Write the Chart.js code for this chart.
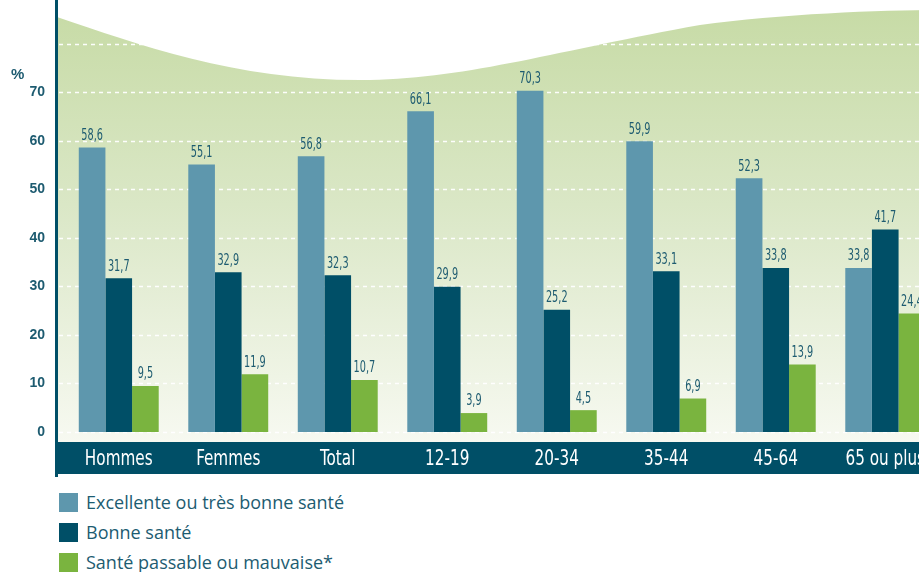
<!DOCTYPE html>
<html lang="fr">
<head>
<meta charset="utf-8">
<title>Santé perçue</title>
<script src="https://cdn.jsdelivr.net/npm/chart.js@4/dist/chart.umd.min.js"></script>
<style>
  html, body { margin: 0; padding: 0; background: #fff; }
  body { width: 919px; height: 572px; overflow: hidden; position: relative; }
  #wrap { position: absolute; left: 0; top: 0; width: 940px; height: 480px; }
  #legend { position: absolute; left: 59px; top: 487px; margin: 0; padding: 0; list-style: none;
            font-family: 'Open Sans', 'Noto Sans', sans-serif; font-size: 18px; color: #1d5c71; }
  #legend li { height: 30px; display: flex; align-items: center; }
  #legend .box { width: 19px; height: 19px; margin-right: 8px; flex: none; }
</style>
</head>
<body>
<div id="wrap"><canvas id="chart" width="940" height="480"></canvas></div>
<ul id="legend"></ul>
<script>
(function () {
    'use strict';

    // data
    var categories = ['Hommes', 'Femmes', 'Total', '12-19', '20-34', '35-44', '45-64', '65 ou plus'];
    var excellente = [58.6, 55.1, 56.8, 66.1, 70.3, 59.9, 52.3, 33.8];
    var bonne = [31.7, 32.9, 32.3, 29.9, 25.2, 33.1, 33.8, 41.7];
    var passable = [9.5, 11.9, 10.7, 3.9, 4.5, 6.9, 13.9, 24.4];
    var seriesNames = ['Excellente ou très bonne santé', 'Bonne santé', 'Santé passable ou mauvaise*'];
    var yTicks = [0, 10, 20, 30, 40, 50, 60, 70, 80];

    var LIGHT = '#5e97ad';
    var DARK = '#004f67';
    var GREEN = '#7ab43f';
    var TEXT = '#1d5b70';
    var CONDENSED = "'DejaVu Sans Condensed', 'DejaVu Sans', sans-serif";

    function fmt(v) {
        return v.toFixed(1).replace('.', ',');
    }

    // draw text squeezed horizontally, the source uses a condensed face
    function squeezedText(ctx, text, x, y, sx) {
        ctx.save();
        ctx.translate(x, y);
        ctx.scale(sx, 1);
        ctx.fillText(text, 0, 0);
        ctx.restore();
    }

    // wavy green background, dashed grid, axis line and the dark category band
    var backdrop = {
        id: 'backdrop',
        beforeDraw: function (chart) {
            var ctx = chart.ctx;
            var w = chart.width;
            var g = ctx.createLinearGradient(0, 10, 0, 442);
            g.addColorStop(0, '#c7dba6');
            g.addColorStop(0.45, '#dae7c6');
            g.addColorStop(1, '#f7f9f1');
            ctx.save();
            ctx.fillStyle = g;
            ctx.beginPath();
            ctx.moveTo(57, 17);
            ctx.bezierCurveTo(140, 45, 240, 82, 370, 80);
            ctx.bezierCurveTo(470, 78, 560, 50, 700, 25);
            ctx.bezierCurveTo(780, 14, 880, 10, w, 10);
            ctx.lineTo(w, 442);
            ctx.lineTo(57, 442);
            ctx.closePath();
            ctx.fill();

            ctx.fillStyle = DARK;
            ctx.fillRect(55, 442, w - 55, 32);
            ctx.fillRect(55, 0, 3, 477);

            ctx.fillStyle = TEXT;
            ctx.font = 'bold 15px "Liberation Sans", sans-serif';
            ctx.textAlign = 'left';
            ctx.textBaseline = 'middle';
            ctx.fillText('%', 11, 75);
            ctx.restore();
        },
        beforeDatasetsDraw: function (chart) {
            var ctx = chart.ctx;
            var y = chart.scales.y;
            ctx.save();
            ctx.strokeStyle = 'rgba(255,255,255,0.95)';
            ctx.lineWidth = 1.5;
            ctx.setLineDash([4, 4]);
            yTicks.forEach(function (t) {
                var py = Math.round(y.getPixelForValue(t)) + 0.5;
                ctx.beginPath();
                ctx.moveTo(59, py);
                ctx.lineTo(chart.width, py);
                ctx.stroke();
            });
            ctx.restore();
        },
        afterDatasetsDraw: function (chart) {
            var ctx = chart.ctx;
            ctx.save();
            ctx.fillStyle = TEXT;
            ctx.font = '15px ' + CONDENSED;
            ctx.textAlign = 'center';
            ctx.textBaseline = 'bottom';
            chart.data.datasets.forEach(function (ds, i) {
                chart.getDatasetMeta(i).data.forEach(function (bar, j) {
                    squeezedText(ctx, fmt(ds.data[j]), bar.x, bar.y - 4, 0.72);
                });
            });

            // category names inside the band
            var x = chart.scales.x;
            ctx.fillStyle = '#ffffff';
            ctx.font = '22px ' + CONDENSED;
            ctx.textBaseline = 'middle';
            x.ticks.forEach(function (t, i) {
                squeezedText(ctx, chart.data.labels[t.value], x.getPixelForTick(i), 459, 0.77);
            });
            ctx.restore();
        }
    };

    function buildLegend(chart) {
        var ul = document.getElementById('legend');
        chart.data.datasets.forEach(function (ds) {
            var li = document.createElement('li');
            var box = document.createElement('span');
            box.className = 'box';
            box.style.background = ds.backgroundColor;
            li.appendChild(box);
            li.appendChild(document.createTextNode(ds.label));
            ul.appendChild(li);
        });
    }

    function init() {
        var canvas = document.getElementById('chart');
        var chart = new Chart(canvas, {
            type: 'bar',
            data: {
                labels: categories,
                datasets: [
                    { label: seriesNames[0], data: excellente, backgroundColor: LIGHT },
                    { label: seriesNames[1], data: bonne, backgroundColor: DARK },
                    { label: seriesNames[2], data: passable, backgroundColor: GREEN }
                ]
            },
            options: {
                responsive: false,
                animation: false,
                layout: { padding: 0 },
                datasets: {
                    bar: { categoryPercentage: 0.73, barPercentage: 1.0 }
                },
                plugins: {
                    legend: { display: false },
                    tooltip: { enabled: false }
                },
                scales: {
                    x: {
                        offset: true,
                        grid: { display: false, drawTicks: false },
                        border: { display: false },
                        ticks: { display: false, autoSkip: false, maxRotation: 0 },
                        afterFit: function (s) {
                            s.height = 48;
                            s.paddingLeft = 0;
                            s.paddingRight = 0;
                        }
                    },
                    y: {
                        min: 0,
                        max: 89,
                        grid: { display: false, drawTicks: false },
                        border: { display: false },
                        afterBuildTicks: function (s) {
                            s.ticks = yTicks.map(function (v) { return { value: v }; });
                        },
                        ticks: {
                            color: TEXT,
                            padding: 19,
                            font: { family: "'Liberation Sans', sans-serif", size: 14, weight: 'bold' },
                            callback: function (v) { return v <= 70 ? String(v) : null; }
                        },
                        afterFit: function (s) {
                            s.width = 64;
                            s.paddingTop = 0;
                            s.paddingBottom = 0;
                        }
                    }
                }
            },
            plugins: [backdrop]
        });
        buildLegend(chart);
    }

    if (document.readyState === 'loading') {
        document.addEventListener('DOMContentLoaded', init);
    } else {
        init();
    }
})();
</script>
</body>
</html>
